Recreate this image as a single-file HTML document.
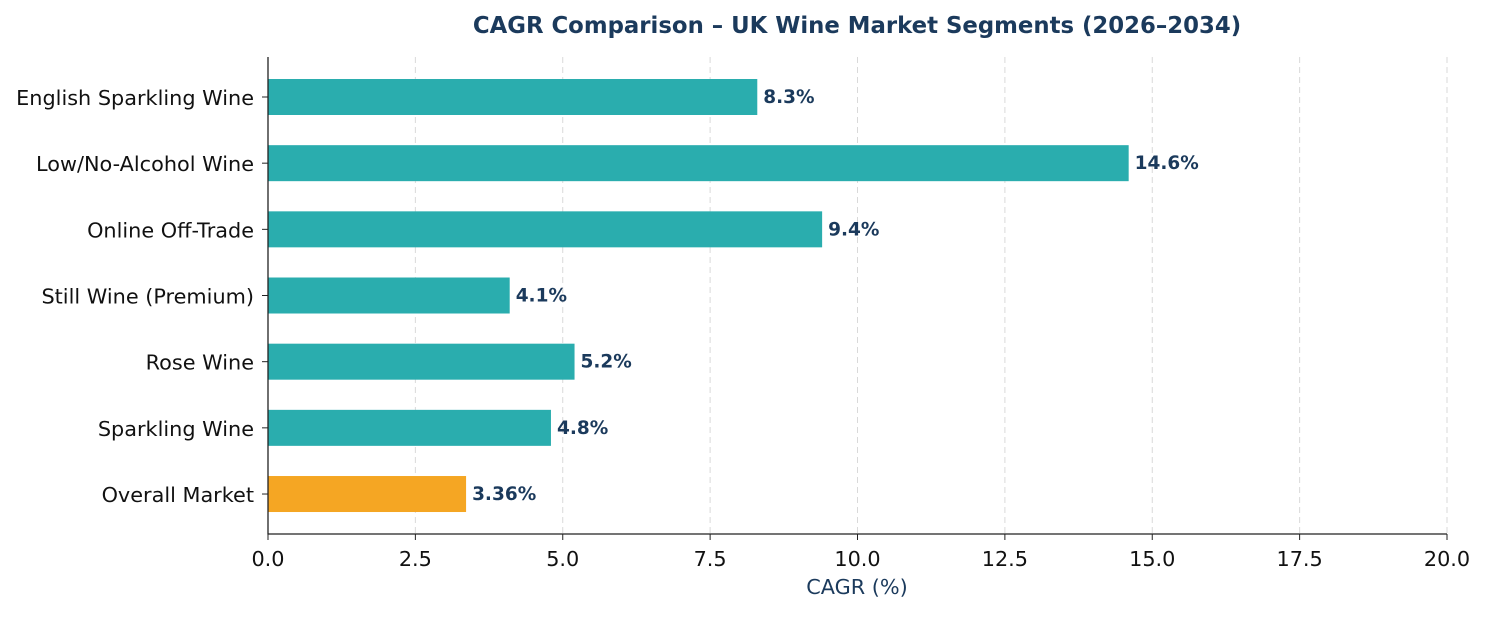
<!DOCTYPE html>
<html><head><meta charset="utf-8"><style>
body{margin:0;background:#fff;}
svg text{font-family:"DejaVu Sans","Liberation Sans",sans-serif;}
</style></head><body>
<svg id="chart" width="1485" height="612" xmlns="http://www.w3.org/2000/svg">
<text x="857" y="33" text-anchor="middle" font-size="22.8" font-weight="bold" fill="#1b3a5c">CAGR Comparison – UK Wine Market Segments (2026–2034)</text>
<g id="grid"></g><g id="bars"></g><g id="axes"></g>
<text x="857" y="594" text-anchor="middle" font-size="20.8" fill="#1b3a5c">CAGR (%)</text>
</svg>
<script>
const categories=["English Sparkling Wine","Low/No-Alcohol Wine","Online Off-Trade","Still Wine (Premium)","Rose Wine","Sparkling Wine","Overall Market"];
const values=[8.3,14.6,9.4,4.1,5.2,4.8,3.36];
const labels=["8.3%","14.6%","9.4%","4.1%","5.2%","4.8%","3.36%"];
const ticks=[0,2.5,5,7.5,10,12.5,15,17.5,20];
const tickLabels=["0.0","2.5","5.0","7.5","10.0","12.5","15.0","17.5","20.0"];
const NS="http://www.w3.org/2000/svg";
const x0=268,x1=1447,xmax=20;
const xs=v=>x0+(x1-x0)*v/xmax;
const yc=i=>97+i*66.17;
function mk(t,a,p){const e=document.createElementNS(NS,t);for(const k in a)e.setAttribute(k,a[k]);p.appendChild(e);return e;}
const grid=document.getElementById('grid'),bars=document.getElementById('bars'),axes=document.getElementById('axes');
ticks.forEach((t,i)=>{
  if(i>0){const g=mk('line',{x1:xs(t),x2:xs(t),y1:57,y2:534,stroke:'#d9d9d9','stroke-dasharray':'6,4','stroke-width':1},grid);
  
  }
  const tk=mk('line',{x1:xs(t),x2:xs(t),y1:534,y2:540,stroke:'#222'},axes);
  
  
  const tl=mk('text',{x:xs(t),y:566,'text-anchor':'middle','font-size':'20.8',fill:'#111'},axes);tl.textContent=tickLabels[i];
  
  
});
categories.forEach((c,i)=>{
  const y=yc(i);
  const r=mk('rect',{x:x0,y:y-18,width:xs(values[i])-x0,height:36,fill:i===categories.length-1?'#f5a623':'#2aadae'},bars);
  
  
  const v=mk('text',{x:xs(values[i])+6,y:y+6,'font-size':'18.5','font-weight':'bold',fill:'#1b3a5c'},bars);v.textContent=labels[i];
  
  
  const tk=mk('line',{x1:x0-6,x2:x0,y1:y,y2:y,stroke:'#222'},axes);
  
  
  const l=mk('text',{x:x0-14,y:y+8,'text-anchor':'end','font-size':'20.8',fill:'#111'},axes);l.textContent=c;
  
  
});
const ya=mk('line',{x1:x0,x2:x0,y1:57,y2:534.5,stroke:'#222','stroke-width':1.3},axes);


const xa=mk('line',{x1:x0,x2:x1,y1:534,y2:534,stroke:'#222','stroke-width':1.3},axes);


</script>
</body></html>
